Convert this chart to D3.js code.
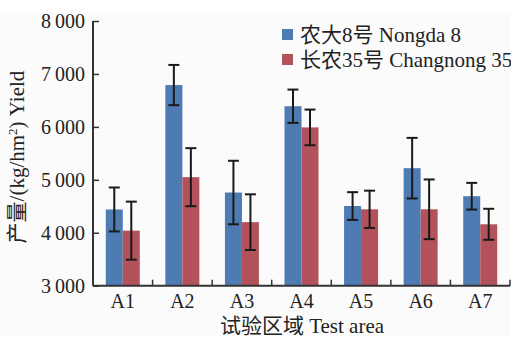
<!DOCTYPE html>
<html><head><meta charset="utf-8">
<script src="https://cdn.jsdelivr.net/npm/d3@7"></script>
<style>body{margin:0;background:#fff}svg{display:block}
svg text{font-family:"Liberation Serif","DejaVu Serif","Times New Roman",Times,"Noto Sans CJK SC",serif !important;}
</style>
</head><body>
<script>
const categories = ["A1","A2","A3","A4","A5","A6","A7"];
const seriesNames = ["农大8号 Nongda 8","长农35号 Changnong 35"];
const nongda8 = [4440, 6790, 4760, 6390, 4505, 5220, 4690];
const nongda8Err = [415, 380, 600, 315, 262, 572, 252];
const changnong35 = [4040, 5050, 4200, 5990, 4443, 4443, 4160];
const changnong35Err = [548, 548, 526, 337, 352, 564, 293];
const yTicks = [3000,4000,5000,6000,7000,8000];
const colors = ["#4e7bb2","#b3525a"];

const W=511,H=337;
const svg=d3.select("body").append("svg").attr("width",W).attr("height",H);
svg.append("rect").attr("x",0).attr("y",12).attr("width",W).attr("height",H-12).attr("fill","#fbfbfb");
const x0=93, x1=510, yTop=21, yBot=285.7;
const x=d3.scaleBand().domain(categories).range([x0,x1]).paddingInner(0).paddingOuter(0);
const xs=d3.scaleBand().domain([0,1]).range([0,34]);
const y=d3.scaleLinear().domain([3000,8000]).range([yBot,yTop]);
const series=[{v:nongda8,e:nongda8Err},{v:changnong35,e:changnong35Err}];
series.forEach((s,si)=>{
  const g=svg.append("g");
  categories.forEach((c,i)=>{
    const bx=x(c)+(x.bandwidth()-34)/2+xs(si);
    g.append("rect").attr("x",bx).attr("y",y(s.v[i])).attr("width",xs.bandwidth()).attr("height",y(3000)-y(s.v[i])).attr("fill",colors[si]);
  });
});
series.forEach((s,si)=>{
  categories.forEach((c,i)=>{
    const cx=x(c)+(x.bandwidth()-34)/2+xs(si)+xs.bandwidth()/2;
    const t=y(s.v[i]+s.e[i]), b=y(s.v[i]-s.e[i]);
    const st="#1a1a1a";
    svg.append("line").attr("x1",cx).attr("x2",cx).attr("y1",t).attr("y2",b).attr("stroke",st).attr("stroke-width",2);
    svg.append("line").attr("x1",cx-5.5).attr("x2",cx+5.5).attr("y1",t).attr("y2",t).attr("stroke",st).attr("stroke-width",2);
    svg.append("line").attr("x1",cx-5.5).attr("x2",cx+5.5).attr("y1",b).attr("y2",b).attr("stroke",st).attr("stroke-width",2);
  });
});
// Y axis
const ya=svg.append("g").attr("transform",`translate(${x0},0)`)
  .call(d3.axisRight(y).tickValues(yTicks).tickSize(6).tickFormat(d=>d3.format(",")(d).replace(",","\u2009")));
ya.select(".domain").attr("stroke","#333").attr("stroke-width",2).attr("d",`M0,${yTop}V${yBot}`);
ya.selectAll(".tick line").attr("stroke","#333").attr("stroke-width",1.5);
ya.selectAll(".tick text").attr("x",-8).attr("text-anchor","end").attr("font-size",20).attr("fill","#222");
// X axis
const xa=svg.append("g").attr("transform",`translate(0,${yBot})`)
  .call(d3.axisBottom(x).tickSize(0).tickPadding(8));
xa.select(".domain").attr("stroke","#333").attr("stroke-width",2).attr("d",`M${x0},0H${x1}`);
xa.selectAll(".tick text").attr("font-size",20).attr("fill","#222").attr("dy","0.71em");
const bounds=categories.map(c=>x(c)+x.bandwidth());
svg.selectAll(".xt").data(bounds).enter().append("line").attr("x1",d=>d).attr("x2",d=>d).attr("y1",yBot).attr("y2",yBot-6).attr("stroke","#333").attr("stroke-width",1.5);
// axis titles
svg.append("text").attr("x",302).attr("y",333).attr("text-anchor","middle").attr("font-size",21).attr("fill","#222").text("试验区域 Test area");
const yl=svg.append("text").attr("transform","translate(24,157) rotate(-90)").attr("text-anchor","middle").attr("font-size",21).attr("fill","#222");
yl.append("tspan").text("产量/(kg/hm");
yl.append("tspan").attr("dy",-7).attr("font-size",13).text("2");
yl.append("tspan").attr("dy",7).text(") Yield");
// legend
seriesNames.forEach((n,i)=>{
  const ly=35+i*25;
  svg.append("rect").attr("x",282).attr("y",ly-6).attr("width",11).attr("height",11).attr("fill",colors[i]);
  svg.append("text").attr("x",300).attr("y",ly+7).attr("font-size",21).attr("fill","#222").text(n);
});
</script>
</body></html>
